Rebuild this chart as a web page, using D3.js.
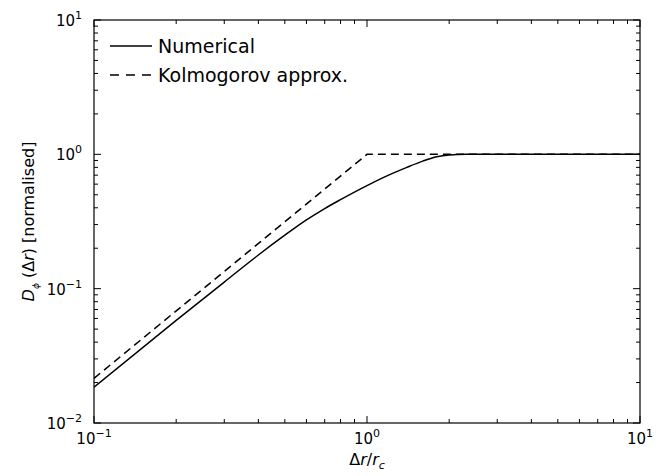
<!DOCTYPE html>
<html>
<head>
<meta charset="utf-8">
<script src="https://cdn.jsdelivr.net/npm/d3@7"></script>
<style>
  body { margin: 0; background: #fff; }
  svg { font-family: "DejaVu Sans", sans-serif; }
</style>
</head>
<body>
<svg id="chart" width="672" height="476"></svg>
<script>
// structure function vs separation, log-log
const xDomain = [0.1, 10];
const yDomain = [0.01, 10];
const xMajor = [0.1, 1, 10];
const yMajor = [0.01, 0.1, 1, 10];
const xTickExp = ["\u22121", "0", "1"];
const yTickExp = ["\u22122", "\u22121", "0", "1"];

const numX = [0.1, 0.2, 0.3, 0.4, 0.5, 0.6, 0.7, 0.8, 1.0, 1.2, 1.4, 1.6, 1.8, 2.0, 2.3, 5, 10];
const numY = [0.0185, 0.058, 0.112, 0.178, 0.25, 0.325, 0.395, 0.46, 0.585, 0.70, 0.80, 0.89, 0.96, 0.99, 1.0, 1.0, 1.0];
const kolX = [0.1, 1, 10];
const kolY = [0.0215, 1, 1];

const legendLabels = ["Numerical", "Kolmogorov approx."];

const svg = d3.select("#chart");
const m = { top: 20, right: 32, bottom: 53, left: 94 };
const W = 672, H = 476;
const iw = W - m.left - m.right, ih = H - m.top - m.bottom;

const x = d3.scaleLog().domain(xDomain).range([0, iw]);
const y = d3.scaleLog().domain(yDomain).range([ih, 0]);

const g = svg.append("g").attr("transform", `translate(${m.left},${m.top})`);

// minor ticks 2..9 per decade
const minor = (dom) => {
  const out = [];
  for (let e = Math.log10(dom[0]); e < Math.log10(dom[1]); e++)
    for (let k = 2; k <= 9; k++) out.push(k * Math.pow(10, e));
  return out;
};
const xMinor = minor(xDomain), yMinor = minor(yDomain);

const tk = g.append("g").attr("stroke", "#000").attr("stroke-width", 1);
const maj = 7, mn = 4;
xMajor.forEach(v => {
  tk.append("line").attr("x1", x(v)).attr("x2", x(v)).attr("y1", ih).attr("y2", ih - maj);
  tk.append("line").attr("x1", x(v)).attr("x2", x(v)).attr("y1", 0).attr("y2", maj);
});
xMinor.forEach(v => {
  tk.append("line").attr("x1", x(v)).attr("x2", x(v)).attr("y1", ih).attr("y2", ih - mn);
  tk.append("line").attr("x1", x(v)).attr("x2", x(v)).attr("y1", 0).attr("y2", mn);
});
yMajor.forEach(v => {
  tk.append("line").attr("y1", y(v)).attr("y2", y(v)).attr("x1", 0).attr("x2", maj);
  tk.append("line").attr("y1", y(v)).attr("y2", y(v)).attr("x1", iw).attr("x2", iw - maj);
});
yMinor.forEach(v => {
  tk.append("line").attr("y1", y(v)).attr("y2", y(v)).attr("x1", 0).attr("x2", mn);
  tk.append("line").attr("y1", y(v)).attr("y2", y(v)).attr("x1", iw).attr("x2", iw - mn);
});

// tick labels: 10 with superscript exponent
xMajor.forEach((v, i) => {
  const t = g.append("text").attr("x", x(v)).attr("y", ih + 21)
    .attr("text-anchor", "middle").attr("font-size", 15).attr("fill", "#000");
  t.append("tspan").text("10");
  t.append("tspan").attr("dy", -7).attr("font-size", 11).text(xTickExp[i]);
});
yMajor.forEach((v, i) => {
  const t = g.append("text").attr("x", -12).attr("y", y(v) + 6)
    .attr("text-anchor", "end").attr("font-size", 15).attr("fill", "#000");
  t.append("tspan").text("10");
  t.append("tspan").attr("dy", -7).attr("font-size", 11).text(yTickExp[i]);
});

// curves
const line = d3.line().x(d => x(d[0])).y(d => y(d[1])).curve(d3.curveMonotoneX);
g.append("clipPath").attr("id", "clip").append("rect").attr("width", iw).attr("height", ih);
g.append("path").datum(numX.map((v, i) => [v, numY[i]]))
  .attr("d", line).attr("fill", "none").attr("stroke", "#000").attr("stroke-width", 1.5)
  .attr("clip-path", "url(#clip)");
g.append("path").datum(kolX.map((v, i) => [v, kolY[i]]))
  .attr("d", d3.line().x(d => x(d[0])).y(d => y(d[1])))
  .attr("fill", "none").attr("stroke", "#000").attr("stroke-width", 1.5)
  .attr("stroke-dasharray", "8,5").attr("clip-path", "url(#clip)");

// frame
g.append("rect").attr("width", iw).attr("height", ih)
  .attr("fill", "none").attr("stroke", "#000").attr("stroke-width", 1.2);

// legend
const lg = g.append("g").attr("transform", "translate(16,26)");
legendLabels.forEach((lab, i) => {
  lg.append("line").attr("x1", 0).attr("x2", 42).attr("y1", i * 29).attr("y2", i * 29)
    .attr("stroke", "#000").attr("stroke-width", 1.5)
    .attr("stroke-dasharray", i === 1 ? "9,7" : null);
  lg.append("text").attr("x", 48).attr("y", i * 29 + 7).attr("font-size", 19).attr("fill", "#000").text(lab);
});

// axis labels
const xl = svg.append("text").attr("x", m.left + iw / 2).attr("y", 465)
  .attr("text-anchor", "middle").attr("font-size", 16).attr("fill", "#000");
xl.append("tspan").text("\u0394");
xl.append("tspan").attr("font-style", "italic").text("r");
xl.append("tspan").text("/");
xl.append("tspan").attr("font-style", "italic").text("r");
xl.append("tspan").attr("font-style", "italic").attr("font-size", 11).attr("dy", 4).text("c");

const yl = svg.append("text").attr("transform", `translate(34,${m.top + ih / 2}) rotate(-90)`)
  .attr("text-anchor", "middle").attr("font-size", 16).attr("fill", "#000");
yl.append("tspan").attr("font-style", "italic").text("D");
yl.append("tspan").attr("font-style", "italic").attr("font-size", 9).attr("dy", 5).text("\u03d5");
yl.append("tspan").attr("dy", -5).text(" (\u0394");
yl.append("tspan").attr("font-style", "italic").text("r");
yl.append("tspan").text(") [normalised]");
</script>
</body>
</html>
